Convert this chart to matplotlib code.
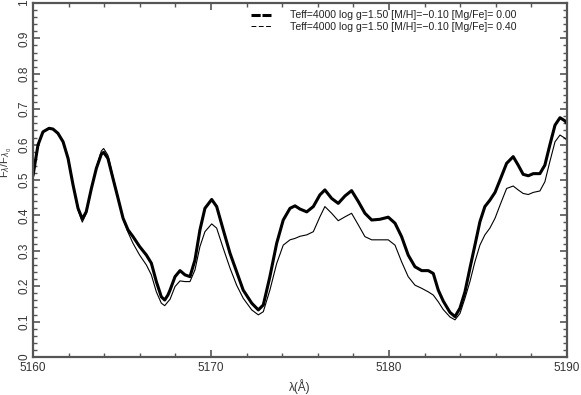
import matplotlib
matplotlib.use("Agg")
import matplotlib.pyplot as plt
from matplotlib.lines import Line2D
from matplotlib.ticker import MultipleLocator, FuncFormatter

plt.rcParams['font.family'] = ['Liberation Sans', 'DejaVu Sans']

wavelength = [
    5160.00, 5160.28, 5160.56, 5160.90, 5161.12, 5161.40, 5161.69, 5161.97,
    5162.25, 5162.53, 5162.77, 5162.99, 5163.28, 5163.56, 5163.84, 5163.97,
    5164.21, 5164.49, 5164.78, 5165.06, 5165.34, 5165.62, 5165.99, 5166.37,
    5166.65, 5166.93, 5167.21, 5167.40, 5167.58, 5167.70, 5167.98, 5168.26,
    5168.54, 5168.82, 5169.10, 5169.38, 5169.66, 5170.04, 5170.32, 5170.69,
    5171.07, 5171.44, 5171.81, 5172.29, 5172.66, 5172.94, 5173.31, 5173.69,
    5174.06, 5174.44, 5174.72, 5175.00, 5175.38, 5175.75, 5176.12, 5176.40,
    5176.78, 5177.15, 5177.53, 5177.90, 5178.28, 5178.65, 5179.03, 5179.49,
    5179.96, 5180.34, 5180.71, 5181.08, 5181.46, 5181.84, 5182.21, 5182.49,
    5182.77, 5183.05, 5183.43, 5183.71, 5183.99, 5184.27, 5184.55, 5184.83,
    5185.11, 5185.39, 5185.67, 5185.96, 5186.24, 5186.61, 5186.98, 5187.26,
    5187.54, 5187.83, 5188.11, 5188.48, 5188.76, 5189.04, 5189.33, 5189.61,
    5189.89, 5190.00,
]

flux_mgfe_000 = [
    0.512, 0.599, 0.636, 0.646, 0.644, 0.632, 0.608, 0.561,
    0.486, 0.420, 0.390, 0.410, 0.476, 0.533, 0.573, 0.578,
    0.561, 0.505, 0.448, 0.392, 0.359, 0.340, 0.312, 0.288,
    0.265, 0.213, 0.170, 0.161, 0.175, 0.189, 0.227, 0.244,
    0.232, 0.227, 0.274, 0.359, 0.420, 0.445, 0.425, 0.359,
    0.293, 0.241, 0.189, 0.152, 0.133, 0.147, 0.227, 0.321,
    0.387, 0.420, 0.427, 0.418, 0.410, 0.425, 0.458, 0.472,
    0.448, 0.434, 0.455, 0.470, 0.439, 0.406, 0.387, 0.389,
    0.395, 0.378, 0.340, 0.288, 0.255, 0.244, 0.244, 0.236,
    0.189, 0.158, 0.126, 0.114, 0.138, 0.184, 0.251, 0.316,
    0.382, 0.425, 0.443, 0.465, 0.500, 0.547, 0.566, 0.542,
    0.516, 0.512, 0.518, 0.518, 0.542, 0.599, 0.655, 0.676,
    0.667, 0.660,
]

flux_mgfe_040 = [
    0.512, 0.599, 0.636, 0.646, 0.644, 0.632, 0.608, 0.561,
    0.484, 0.415, 0.381, 0.405, 0.474, 0.536, 0.582, 0.589,
    0.570, 0.511, 0.452, 0.390, 0.352, 0.321, 0.288, 0.260,
    0.232, 0.184, 0.152, 0.145, 0.156, 0.163, 0.199, 0.215,
    0.213, 0.213, 0.246, 0.312, 0.354, 0.376, 0.364, 0.307,
    0.251, 0.203, 0.166, 0.133, 0.119, 0.128, 0.189, 0.264,
    0.316, 0.331, 0.335, 0.341, 0.345, 0.354, 0.396, 0.425,
    0.406, 0.385, 0.396, 0.406, 0.373, 0.340, 0.331, 0.331,
    0.331, 0.316, 0.269, 0.227, 0.203, 0.194, 0.184, 0.175,
    0.156, 0.134, 0.113, 0.105, 0.123, 0.166, 0.213, 0.269,
    0.316, 0.345, 0.364, 0.392, 0.429, 0.476, 0.483, 0.472,
    0.462, 0.459, 0.465, 0.469, 0.495, 0.552, 0.608, 0.627,
    0.618, 0.612,
]

labels = [
    "Teff=4000 log g=1.50 [M/H]=\u22120.10 [Mg/Fe]= 0.00",
    "Teff=4000 log g=1.50 [M/H]=\u22120.10 [Mg/Fe]= 0.40",
]

fig = plt.figure(figsize=(5.81, 3.95), dpi=100)
ax = fig.add_axes([0.0568, 0.0962, 0.919, 0.8962])

ax.plot(wavelength, flux_mgfe_000, color='black', lw=2.2,
        solid_joinstyle='round', solid_capstyle='round')
ax.plot(wavelength, flux_mgfe_040, color='black', lw=0.8,
        solid_joinstyle='round')

ax.set_xlim(5160, 5190)
ax.set_ylim(0, 1)
ax.xaxis.set_major_locator(MultipleLocator(10))
ax.xaxis.set_minor_locator(MultipleLocator(2))
ax.yaxis.set_major_locator(MultipleLocator(0.1))
ax.yaxis.set_minor_locator(MultipleLocator(0.02))
ax.yaxis.set_major_formatter(FuncFormatter(lambda v, p: f"{v:g}"))

tick_color = '#555555'
for s in ax.spines.values():
    s.set_color(tick_color)
    s.set_linewidth(1.6)
ax.tick_params(which='both', direction='in', top=True, right=True,
               color=tick_color, labelcolor='#333333', labelsize=8.5)
ax.tick_params(which='major', length=5, width=1.2)
ax.tick_params(which='minor', length=3, width=1.0)
ax.tick_params(axis='y', pad=2)
for lab in ax.get_yticklabels():
    lab.set_rotation(90)
    lab.set_va('center')

ax.set_xlabel("\u03bb(\u00c5)", fontsize=8.5, color='#333333')
ax.xaxis.set_label_coords(0.5, -0.063)
ax.set_ylabel(r"F$_\lambda$/F$_{\lambda_0}$", fontsize=8, color='#333333')
ax.yaxis.set_label_coords(-0.036, 0.55)

handles = [
    Line2D([], [], color='black', lw=2.2, linestyle=(0, (3, 0.6))),
    Line2D([], [], color='black', lw=0.7, linestyle=(0, (5, 2.5))),
]
leg = ax.legend(handles, labels, loc='upper right', bbox_to_anchor=(0.918, 0.997),
                frameon=False, fontsize=7.6, handlelength=1.9, handletextpad=1.8,
                labelspacing=0.12, borderaxespad=0.2)
for t in leg.get_texts():
    t.set_color('#222222')

fig.savefig("out.png", dpi=100)
